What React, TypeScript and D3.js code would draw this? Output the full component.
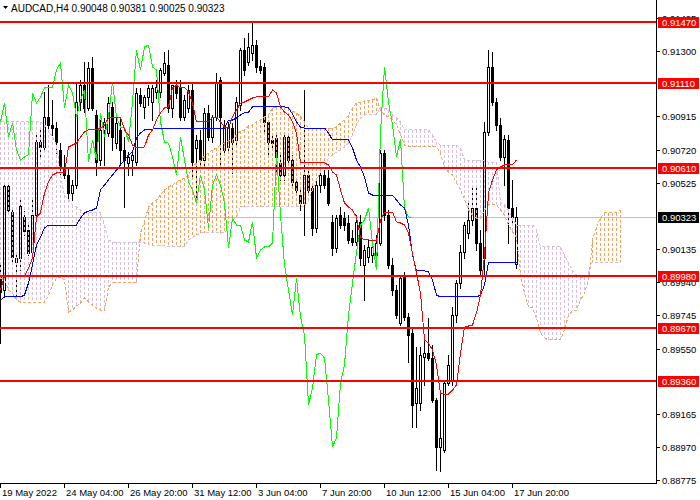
import React from 'react';
import * as d3 from 'd3';

// AUDCAD H4 with Ichimoku
const openP = [
  0.89983, 0.89895, 0.90506, 0.90353, 0.90059, 0.90083, 0.90324, 0.90248, 0.90118, 0.90336,
  0.90765, 0.90736, 0.90912, 0.90865, 0.90847, 0.90718, 0.90612, 0.90571, 0.90465, 0.90512,
  0.91000, 0.91100, 0.90965, 0.91200, 0.90924, 0.90659, 0.90836, 0.90818, 0.90971, 0.90759,
  0.90836, 0.90718, 0.90642, 0.90659, 0.90647, 0.91041, 0.90971, 0.91030, 0.91000, 0.91059,
  0.91059, 0.91171, 0.91218, 0.90965, 0.91100, 0.91088, 0.90912, 0.90965, 0.91071, 0.90730,
  0.90777, 0.90659, 0.90936, 0.90794, 0.90912, 0.91130, 0.90718, 0.90736, 0.90847, 0.90777,
  0.90983, 0.91306, 0.91235, 0.91288, 0.91335, 0.91212, 0.91206, 0.90883, 0.90777, 0.90789,
  0.90642, 0.90571, 0.90794, 0.90659, 0.90530, 0.90453, 0.90406, 0.90571, 0.90495, 0.90259,
  0.90512, 0.90571, 0.90553, 0.90295, 0.90142, 0.90336, 0.90318, 0.90289, 0.90201, 0.90177,
  0.90295, 0.90042, 0.90089, 0.90101, 0.90101, 0.90171, 0.90700, 0.90336, 0.90042, 0.89895,
  0.89701, 0.89971, 0.89736, 0.89642, 0.89230, 0.89230, 0.89501, 0.89524, 0.89495, 0.89248,
  0.88972, 0.88954, 0.89348, 0.89366, 0.89748, 0.89936, 0.90118, 0.90230, 0.90306, 0.90377,
  0.90171, 0.90083, 0.90824, 0.91206, 0.91000, 0.90865, 0.90677, 0.90777, 0.90377, 0.90048,
];
const highP = [
  0.90059, 0.90524, 0.90524, 0.90383, 0.90112, 0.90424, 0.90359, 0.90277, 0.90424, 0.90806,
  0.90847, 0.91059, 0.91100, 0.91012, 0.90883, 0.90759, 0.90689, 0.90612, 0.90542, 0.91118,
  0.91130, 0.91235, 0.91235, 0.91265, 0.90953, 0.90894, 0.90906, 0.91030, 0.91000, 0.90906,
  0.90912, 0.90794, 0.90706, 0.90718, 0.91083, 0.91083, 0.91041, 0.91100, 0.91100, 0.91130,
  0.91200, 0.91294, 0.91306, 0.91100, 0.91130, 0.91130, 0.91041, 0.91100, 0.91112, 0.90806,
  0.90836, 0.90965, 0.90983, 0.90924, 0.91171, 0.91147, 0.90894, 0.90883, 0.90877, 0.91030,
  0.91318, 0.91377, 0.91406, 0.91471, 0.91365, 0.91247, 0.91230, 0.90894, 0.90806, 0.90818,
  0.90700, 0.90806, 0.90818, 0.90689, 0.90553, 0.90483, 0.91071, 0.90600, 0.90524, 0.90553,
  0.90589, 0.90600, 0.90600, 0.90336, 0.90336, 0.90383, 0.90353, 0.90336, 0.90248, 0.90336,
  0.90336, 0.90159, 0.90189, 0.90189, 0.90218, 0.90718, 0.90718, 0.90365, 0.90083, 0.89924,
  0.89983, 0.90001, 0.89760, 0.89671, 0.89560, 0.89560, 0.89630, 0.89730, 0.89571, 0.89260,
  0.89307, 0.89366, 0.89513, 0.89795, 0.89954, 0.90159, 0.90295, 0.90424, 0.90495, 0.90495,
  0.90248, 0.90883, 0.91306, 0.91294, 0.91024, 0.90906, 0.90806, 0.90806, 0.90542, 0.90381,
];
const lowP = [
  0.89583, 0.89865, 0.90353, 0.90059, 0.89854, 0.90012, 0.90218, 0.90101, 0.90101, 0.90318,
  0.90677, 0.90718, 0.90847, 0.90806, 0.90700, 0.90559, 0.90553, 0.90412, 0.90424, 0.90495,
  0.90953, 0.90941, 0.90953, 0.90953, 0.90571, 0.90630, 0.90630, 0.90800, 0.90718, 0.90730,
  0.90642, 0.90383, 0.90571, 0.90571, 0.90630, 0.90977, 0.90906, 0.90983, 0.90894, 0.91024,
  0.91030, 0.91159, 0.90941, 0.90912, 0.91024, 0.90894, 0.90894, 0.90941, 0.90559, 0.90412,
  0.90630, 0.90612, 0.90777, 0.90765, 0.90894, 0.90618, 0.90689, 0.90706, 0.90583, 0.90747,
  0.90953, 0.91159, 0.91218, 0.91247, 0.91177, 0.91171, 0.90818, 0.90677, 0.90718, 0.90583,
  0.90542, 0.90542, 0.90647, 0.90512, 0.90471, 0.90365, 0.90218, 0.90471, 0.90218, 0.90236,
  0.90471, 0.90495, 0.90395, 0.90101, 0.90118, 0.90259, 0.90248, 0.90171, 0.90159, 0.90159,
  0.90042, 0.89836, 0.90059, 0.90059, 0.90083, 0.90159, 0.90306, 0.90024, 0.89865, 0.89730,
  0.89689, 0.89718, 0.89471, 0.89089, 0.89089, 0.89189, 0.89336, 0.89483, 0.89236, 0.88836,
  0.88831, 0.88942, 0.89336, 0.89336, 0.89707, 0.89907, 0.90083, 0.90201, 0.90277, 0.90130,
  0.89983, 0.89983, 0.90806, 0.90983, 0.90836, 0.90659, 0.90512, 0.90171, 0.90295, 0.90025,
];
const closeP = [
  0.89883, 0.90506, 0.90365, 0.90089, 0.90083, 0.90389, 0.90242, 0.90112, 0.90336, 0.90765,
  0.90736, 0.90912, 0.90865, 0.90847, 0.90765, 0.90612, 0.90571, 0.90465, 0.90512, 0.91000,
  0.91100, 0.90965, 0.91200, 0.90965, 0.90647, 0.90836, 0.90883, 0.90994, 0.90794, 0.90877,
  0.90718, 0.90659, 0.90677, 0.90689, 0.91053, 0.90994, 0.91030, 0.91083, 0.91083, 0.91088,
  0.91188, 0.91230, 0.90965, 0.91100, 0.91053, 0.90912, 0.91012, 0.91071, 0.90647, 0.90777,
  0.90659, 0.90936, 0.90794, 0.90912, 0.91118, 0.90912, 0.90853, 0.90853, 0.90765, 0.91000,
  0.91306, 0.91188, 0.91324, 0.91335, 0.91206, 0.91188, 0.90883, 0.90765, 0.90759, 0.90677,
  0.90571, 0.90794, 0.90659, 0.90530, 0.90483, 0.90406, 0.90571, 0.90483, 0.90259, 0.90512,
  0.90571, 0.90512, 0.90406, 0.90142, 0.90318, 0.90277, 0.90277, 0.90189, 0.90177, 0.90295,
  0.90083, 0.90130, 0.90148, 0.90148, 0.90171, 0.90700, 0.90336, 0.90042, 0.89895, 0.89748,
  0.89965, 0.89736, 0.89630, 0.89219, 0.89319, 0.89513, 0.89524, 0.89495, 0.89248, 0.88972,
  0.89025, 0.89348, 0.89454, 0.89748, 0.89936, 0.90118, 0.90277, 0.90306, 0.90377, 0.90171,
  0.90012, 0.90824, 0.91206, 0.91000, 0.90865, 0.90677, 0.90783, 0.90377, 0.90324, 0.90323,
];

const tenkan = [
  0.89895, 0.89977, 0.89977, 0.89977, 0.89977, 0.89977, 0.89977, 0.90024, 0.90083, 0.90324,
  0.90348, 0.90465, 0.90530, 0.90571, 0.90583, 0.90583, 0.90583, 0.90736, 0.90747, 0.90759,
  0.90794, 0.90824, 0.90836, 0.90836, 0.90836, 0.90847, 0.90865, 0.90906, 0.90912, 0.90912,
  0.90912, 0.90836, 0.90806, 0.90747, 0.90730, 0.90730, 0.90736, 0.90806, 0.90836, 0.90894,
  0.90936, 0.90965, 0.90971, 0.91083, 0.91100, 0.91083, 0.91088, 0.91059, 0.90994, 0.90883,
  0.90883, 0.90883, 0.90883, 0.90912, 0.90912, 0.90883, 0.90853, 0.90847, 0.90912, 0.90953,
  0.90994, 0.91000, 0.91012, 0.91024, 0.91030, 0.91030, 0.91030, 0.91030, 0.91071, 0.91053,
  0.90971, 0.90941, 0.90924, 0.90883, 0.90818, 0.90647, 0.90647, 0.90647, 0.90642, 0.90642,
  0.90642, 0.90642, 0.90630, 0.90589, 0.90571, 0.90483, 0.90406, 0.90383, 0.90365, 0.90324,
  0.90206, 0.90189, 0.90189, 0.90183, 0.90183, 0.90306, 0.90353, 0.90353, 0.90353, 0.90295,
  0.90289, 0.90277, 0.90230, 0.90112, 0.89995, 0.89877, 0.89601, 0.89583, 0.89542, 0.89454,
  0.89289, 0.89283, 0.89283, 0.89307, 0.89336, 0.89524, 0.89677, 0.89683, 0.89689, 0.89760,
  0.89865, 0.90101, 0.90465, 0.90542, 0.90600, 0.90618, 0.90630, 0.90630, 0.90630, 0.90659,
];
const kijun = [
  0.89836, 0.89854, 0.89854, 0.89854, 0.89854, 0.89854, 0.89865, 0.89936, 0.90042, 0.90159,
  0.90206, 0.90259, 0.90277, 0.90277, 0.90277, 0.90277, 0.90277, 0.90277, 0.90277, 0.90277,
  0.90318, 0.90348, 0.90359, 0.90365, 0.90377, 0.90483, 0.90512, 0.90542, 0.90571, 0.90600,
  0.90630, 0.90659, 0.90689, 0.90706, 0.90789, 0.90818, 0.90836, 0.90836, 0.90841, 0.90847,
  0.90847, 0.90847, 0.90847, 0.90847, 0.90847, 0.90847, 0.90847, 0.90847, 0.90847, 0.90847,
  0.90847, 0.90847, 0.90847, 0.90847, 0.90847, 0.90847, 0.90847, 0.90894, 0.90894, 0.90906,
  0.90924, 0.90936, 0.90941, 0.90971, 0.90971, 0.90971, 0.90971, 0.90971, 0.90971, 0.90971,
  0.90971, 0.90971, 0.90965, 0.90930, 0.90883, 0.90853, 0.90847, 0.90847, 0.90847, 0.90847,
  0.90847, 0.90847, 0.90818, 0.90777, 0.90777, 0.90777, 0.90777, 0.90777, 0.90730, 0.90659,
  0.90618, 0.90559, 0.90465, 0.90453, 0.90453, 0.90453, 0.90453, 0.90453, 0.90453, 0.90424,
  0.90395, 0.90377, 0.90277, 0.90101, 0.90007, 0.90007, 0.90007, 0.90001, 0.89954, 0.89865,
  0.89854, 0.89854, 0.89854, 0.89854, 0.89854, 0.89854, 0.89854, 0.89854, 0.89854, 0.89854,
  0.89865, 0.89924, 0.90059, 0.90059, 0.90059, 0.90059, 0.90059, 0.90059, 0.90059, 0.90059,
];
// Senkou spans run 26 bars past the last candle
const spanA = [
  0.89965, 0.89954, 0.89895, 0.89877, 0.89836, 0.89824, 0.89824, 0.89824, 0.89824, 0.89824,
  0.89824, 0.89824, 0.89865, 0.89924, 0.89965, 0.89971, 0.89954, 0.89765, 0.89777, 0.89801,
  0.89818, 0.89848, 0.89824, 0.89807, 0.89789, 0.89777, 0.89777, 0.89912, 0.89936, 0.89936,
  0.89936, 0.89936, 0.89936, 0.89936, 0.89936, 0.90230, 0.90295, 0.90383, 0.90406, 0.90424,
  0.90453, 0.90483, 0.90500, 0.90512, 0.90530, 0.90542, 0.90553, 0.90571, 0.90618, 0.90642,
  0.90659, 0.90683, 0.90700, 0.90718, 0.90730, 0.90747, 0.90759, 0.90771, 0.90777, 0.90806,
  0.90830, 0.90836, 0.90859, 0.90865, 0.90883, 0.90894, 0.90912, 0.90924, 0.90965, 0.90971,
  0.90971, 0.90971, 0.90965, 0.90947, 0.90936, 0.90912, 0.90883, 0.90847, 0.90847, 0.90847,
  0.90847, 0.90847, 0.90847, 0.90847, 0.90853, 0.90877, 0.90894, 0.90924, 0.90965, 0.90994,
  0.91000, 0.91006, 0.91012, 0.91012, 0.91024, 0.90953, 0.90924, 0.90912, 0.90894, 0.90865,
  0.90806, 0.90747, 0.90736, 0.90736, 0.90736, 0.90736, 0.90736, 0.90736, 0.90736, 0.90736,
  0.90700, 0.90612, 0.90589, 0.90571, 0.90524, 0.90483, 0.90424, 0.90365, 0.90336, 0.90318,
  0.90318, 0.90365, 0.90395, 0.90395, 0.90395, 0.90365, 0.90336, 0.90277, 0.90236, 0.90206,
  0.89983, 0.89877, 0.89795, 0.89789, 0.89730, 0.89642, 0.89613, 0.89601, 0.89601, 0.89601,
  0.89601, 0.89660, 0.89748, 0.89771, 0.89777, 0.89836, 0.89877, 0.89954, 0.90189, 0.90265,
  0.90318, 0.90348, 0.90348, 0.90348, 0.90348, 0.90365,
];
const spanB = [
  0.90883, 0.90883, 0.90883, 0.90883, 0.90883, 0.90883, 0.90883, 0.90883, 0.90883, 0.90883,
  0.90883, 0.90865, 0.90836, 0.90794, 0.90747, 0.90571, 0.90453, 0.90424, 0.90395, 0.90383,
  0.90365, 0.90353, 0.90348, 0.90348, 0.90348, 0.90348, 0.90277, 0.90189, 0.90177, 0.90177,
  0.90177, 0.90177, 0.90177, 0.90177, 0.90177, 0.90177, 0.90171, 0.90165, 0.90159, 0.90159,
  0.90154, 0.90154, 0.90148, 0.90148, 0.90148, 0.90148, 0.90148, 0.90189, 0.90206, 0.90218,
  0.90230, 0.90230, 0.90230, 0.90230, 0.90230, 0.90230, 0.90230, 0.90265, 0.90306, 0.90324,
  0.90383, 0.90383, 0.90383, 0.90383, 0.90383, 0.90383, 0.90383, 0.90383, 0.90383, 0.90383,
  0.90383, 0.90383, 0.90383, 0.90383, 0.90383, 0.90383, 0.90383, 0.90424, 0.90483, 0.90542,
  0.90589, 0.90630, 0.90671, 0.90689, 0.90706, 0.90718, 0.90736, 0.90759, 0.90806, 0.90865,
  0.90906, 0.90924, 0.90924, 0.90924, 0.90924, 0.90965, 0.90965, 0.90953, 0.90924, 0.90906,
  0.90883, 0.90836, 0.90836, 0.90836, 0.90836, 0.90836, 0.90836, 0.90836, 0.90806, 0.90765,
  0.90747, 0.90747, 0.90747, 0.90747, 0.90747, 0.90730, 0.90659, 0.90659, 0.90659, 0.90659,
  0.90659, 0.90659, 0.90647, 0.90647, 0.90647, 0.90406, 0.90395, 0.90365, 0.90318, 0.90277,
  0.90277, 0.90277, 0.90277, 0.90277, 0.90248, 0.90148, 0.90148, 0.90148, 0.90148, 0.90148,
  0.90148, 0.90101, 0.90054, 0.90012, 0.89983, 0.89971, 0.89971, 0.89995, 0.90059, 0.90059,
  0.90059, 0.90059, 0.90059, 0.90059, 0.90059, 0.90059,
];

const levels = [0.9147, 0.9111, 0.9061, 0.8998, 0.8967, 0.8936];
const priceTicks = [0.91495, 0.913, 0.90915, 0.9072, 0.90525, 0.90135, 0.8994, 0.89745, 0.8955, 0.89165, 0.8897, 0.88775];
const timeLabels = ['19 May 2022', '24 May 04:00', '26 May 20:00', '31 May 12:00', '3 Jun 04:00', '7 Jun 20:00', '10 Jun 12:00', '15 Jun 04:00', '17 Jun 20:00'];
const timeBars = [0, 16, 32, 48, 64, 80, 96, 112, 128];
const lastPrice = 0.90323;
const title = 'AUDCAD,H4  0.90048 0.90381 0.90025 0.90323';

const SANDY = '#F4A460';
const THISTLE = '#D8BFD8';
const FONT = '"Liberation Sans", Arial, sans-serif';

export default function App() {
  const plotW = 656;
  const plotH = 483;
  const x = d3.scaleLinear().domain([0, 164]).range([0, plotW]);
  const y = d3.scaleLinear().domain([0.916, 0.8866]).range([0, 500]);
  const ry = (v: number) => Math.round(y(v));
  const cx = (i: number) => Math.round(x(i));

  const line = d3.line<number>()
    .x((_, i) => cx(i) + 0.5)
    .y((d) => y(d));

  const chikou = closeP.slice(26);
  const fmt = (v: number) => v.toFixed(5);

  return (
    <div style={{ position: 'fixed', left: 0, top: 0 }}>
      <svg width={700} height={500} style={{ display: 'block', background: '#fff' }} fontFamily={FONT}>
        <defs>
          <clipPath id="plot">
            <rect x={0} y={0} width={plotW} height={plotH} />
          </clipPath>
        </defs>
        <g clipPath="url(#plot)">
          {/* bid line */}
          <line x1={0} x2={plotW} y1={ry(lastPrice) + 0.5} y2={ry(lastPrice) + 0.5} stroke="#C0C0C0" />

          {/* candles */}
          <g shapeRendering="crispEdges">
            {openP.map((o, i) => {
              const c = closeP[i];
              const xx = cx(i);
              const hy = ry(highP[i]);
              const ly = ry(lowP[i]);
              const top = ry(Math.max(o, c));
              const bot = ry(Math.min(o, c));
              const bull = c >= o;
              return (
                <g key={i}>
                  <rect x={xx} y={hy} width={1} height={ly - hy + 1} fill="#000" />
                  <rect x={xx - 1} y={top} width={3} height={bot - top + 1} fill="#000" />
                  {bull && bot - top > 1 && (
                    <rect x={xx} y={top + 1} width={1} height={bot - top - 1} fill="#fff" />
                  )}
                </g>
              );
            })}
          </g>

          {/* kumo hatch */}
          <g shapeRendering="crispEdges">
            {spanA.map((a, i) => {
              const b = spanB[i];
              if (b === undefined) return null;
              const t = Math.min(ry(a), ry(b));
              const btm = Math.max(ry(a), ry(b));
              return (
                <line key={i} x1={cx(i) + 0.5} x2={cx(i) + 0.5} y1={t} y2={btm}
                  stroke={a >= b ? SANDY : THISTLE} strokeDasharray="3,2" />
              );
            })}
          </g>
          <path d={line(spanA) || ''} fill="none" stroke={SANDY} strokeDasharray="3,2" shapeRendering="crispEdges" />
          <path d={line(spanB) || ''} fill="none" stroke={THISTLE} strokeDasharray="3,2" shapeRendering="crispEdges" />

          <path d={line(chikou) || ''} fill="none" stroke="#00FF00" shapeRendering="crispEdges" />
          <path d={line(kijun) || ''} fill="none" stroke="#0000FF" shapeRendering="crispEdges" />
          <path d={line(tenkan) || ''} fill="none" stroke="#FF0000" shapeRendering="crispEdges" />

          {/* horizontal levels */}
          {levels.map((v) => (
            <rect key={v} x={0} y={ry(v) - 1} width={plotW} height={2} fill="#FF0000" shapeRendering="crispEdges" />
          ))}
        </g>

        {/* axes */}
        <g shapeRendering="crispEdges" stroke="#000">
          <line x1={plotW + 0.5} x2={plotW + 0.5} y1={0} y2={plotH + 1} />
          <line x1={0} x2={plotW + 1} y1={plotH + 0.5} y2={plotH + 0.5} />
          {priceTicks.map((v) => (
            <line key={v} x1={plotW} x2={plotW + 4} y1={ry(v) + 0.5} y2={ry(v) + 0.5} />
          ))}
          {timeBars.map((b) => (
            <line key={b} x1={cx(b) + 0.5} x2={cx(b) + 0.5} y1={plotH} y2={plotH + 5} />
          ))}
        </g>
        <g fontSize={9.5} fill="#000">
          {priceTicks.map((v) => (
            <text key={v} x={662} y={ry(v) + 3.5}>{fmt(v)}</text>
          ))}
          {timeLabels.map((t, k) => (
            <text key={t} x={cx(timeBars[k]) + 2} y={496}>{t}</text>
          ))}
        </g>

        {/* level tags */}
        <g fontSize={9.5}>
          {levels.map((v) => (
            <g key={v}>
              <rect x={658} y={ry(v) - 5} width={41} height={11} fill="#FF0000" shapeRendering="crispEdges" />
              <text x={662} y={ry(v) + 3.5} fill="#fff">{fmt(v)}</text>
            </g>
          ))}
          <rect x={658} y={ry(lastPrice) - 5} width={41} height={11} fill="#000" shapeRendering="crispEdges" />
          <text x={662} y={ry(lastPrice) + 3.5} fill="#fff">{fmt(lastPrice)}</text>
        </g>

        {/* header */}
        <polygon points="3,6 8,6 5.5,9" fill="#000" />
        <text x={11} y={12} fontSize={10} fill="#000">{title}</text>
      </svg>
    </div>
  );
}
